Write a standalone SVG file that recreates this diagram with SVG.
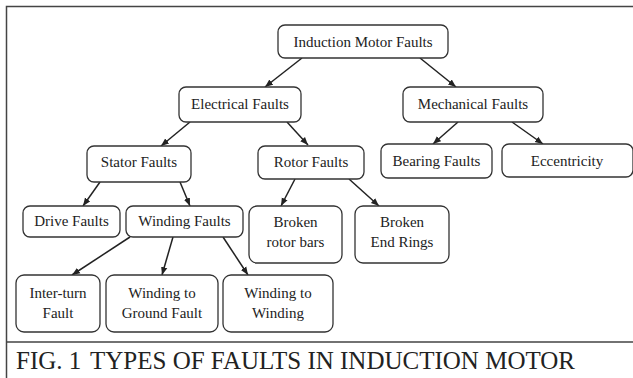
<svg xmlns="http://www.w3.org/2000/svg" width="633" height="378" viewBox="0 0 633 378">
<defs>
<style>
.n rect{fill:#fff;stroke:#333;stroke-width:1.3}
.n text{font-family:"Liberation Serif","Times New Roman",serif;font-size:15px;fill:#222;text-anchor:middle}
.c line{stroke:#222;stroke-width:1.5;marker-end:url(#ah)}
.frame{stroke:#444;stroke-width:1.5;fill:none}
.cap{font-family:"Liberation Serif","Times New Roman",serif;font-size:25px;fill:#222}
</style>
<marker id="ah" viewBox="0 0 10 10" refX="10" refY="5" markerWidth="8" markerHeight="8" markerUnits="userSpaceOnUse" orient="auto">
<path d="M0,1 L10,5 L0,9 z" fill="#222"/>
</marker>
</defs>
<rect width="633" height="378" fill="#fff"/>
<g id="frame">
<path class="frame" d="M6.5,378 L6.5,6.5 L633,6.5 M6.5,342 L633,342"/>
</g>
<g id="connectors" class="c">
<line x1="302" y1="58" x2="265" y2="87"/>
<line x1="420" y1="58" x2="456" y2="87"/>
<line x1="190" y1="122" x2="161" y2="146"/>
<line x1="287" y1="122" x2="308" y2="145"/>
<line x1="458" y1="122" x2="433" y2="144"/>
<line x1="512" y1="122" x2="543" y2="144"/>
<line x1="100" y1="182" x2="83" y2="206"/>
<line x1="180" y1="182" x2="190" y2="206"/>
<line x1="295" y1="179" x2="281" y2="206"/>
<line x1="349" y1="179" x2="379" y2="206"/>
<line x1="130" y1="237" x2="72" y2="275"/>
<line x1="173" y1="237" x2="162" y2="275"/>
<line x1="223" y1="237" x2="248" y2="275"/>
</g>
<g id="induction" class="n"><rect x="278" y="25" width="170" height="33" rx="7"/><text x="363" y="47">Induction Motor Faults</text></g>
<g id="electrical" class="n"><rect x="179" y="87" width="122" height="35" rx="7"/><text x="240" y="109">Electrical Faults</text></g>
<g id="mechanical" class="n"><rect x="403" y="87" width="140" height="35" rx="7"/><text x="473" y="109">Mechanical Faults</text></g>
<g id="stator" class="n"><rect x="87" y="146" width="104" height="36" rx="7"/><text x="139" y="167">Stator Faults</text></g>
<g id="rotor" class="n"><rect x="258" y="146" width="106" height="33" rx="7"/><text x="311" y="167">Rotor Faults</text></g>
<g id="bearing" class="n"><rect x="381" y="144" width="111" height="34" rx="7"/><text x="436.5" y="166">Bearing Faults</text></g>
<g id="eccentricity" class="n"><rect x="502" y="144" width="131" height="33" rx="7"/><text x="567" y="166">Eccentricity</text></g>
<g id="drive" class="n"><rect x="23" y="206" width="97" height="31" rx="7"/><text x="71.5" y="226">Drive Faults</text></g>
<g id="winding" class="n"><rect x="126" y="206" width="117" height="31" rx="7"/><text x="184.5" y="226">Winding Faults</text></g>
<g id="brokenbars" class="n"><rect x="249" y="206" width="93" height="57" rx="8"/><text x="295.5" y="227">Broken</text><text x="295.5" y="247">rotor bars</text></g>
<g id="brokenrings" class="n"><rect x="355" y="206" width="94" height="57" rx="8"/><text x="402" y="227">Broken</text><text x="402" y="247">End Rings</text></g>
<g id="interturn" class="n"><rect x="16" y="275" width="84" height="57" rx="8"/><text x="58" y="298">Inter-turn</text><text x="58" y="318">Fault</text></g>
<g id="ground" class="n"><rect x="106" y="275" width="112" height="57" rx="8"/><text x="162" y="298">Winding to</text><text x="162" y="318">Ground Fault</text></g>
<g id="w2w" class="n"><rect x="223" y="275" width="110" height="57" rx="8"/><text x="278" y="298">Winding to</text><text x="278" y="318">Winding</text></g>
<g id="caption">
<text class="cap" x="16" y="369">FIG. 1</text>
<text class="cap" x="90" y="369">TYPES OF FAULTS IN INDUCTION MOTOR</text>
</g>
</svg>
